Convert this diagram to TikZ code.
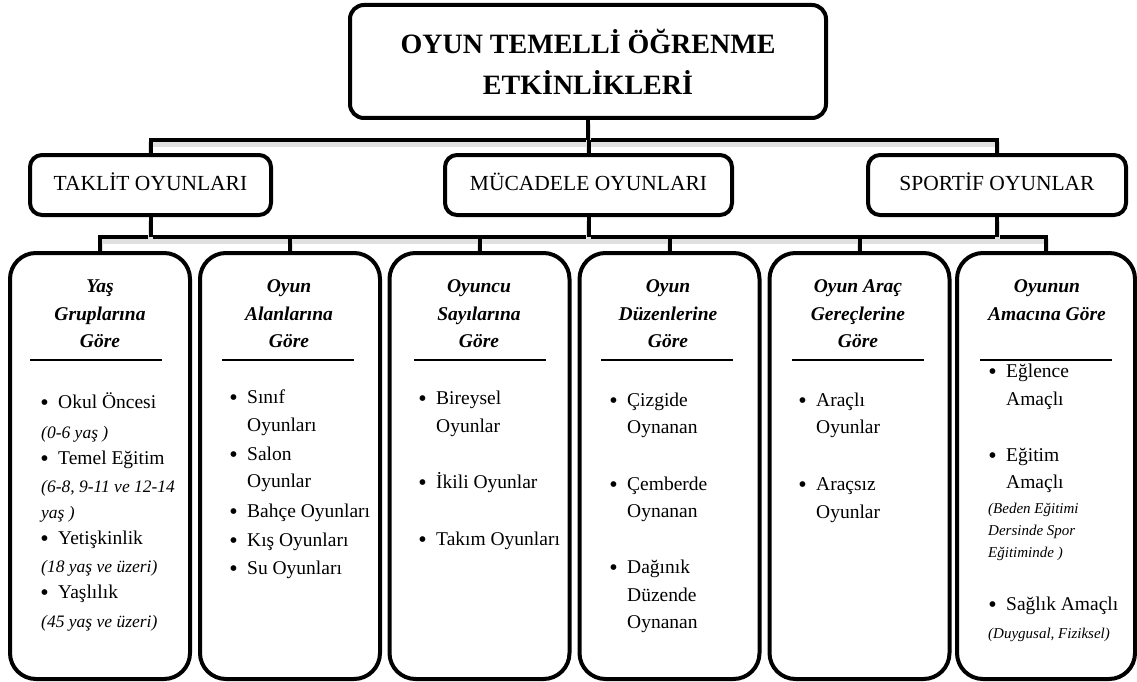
\documentclass[tikz,border=0pt]{standalone}
\usepackage{fontspec}
\setmainfont{Liberation Serif}
\pgfdeclarelayer{bg}
\pgfsetlayers{bg,main}
\tikzset{
  rbox/.style={draw, line width=4pt, rounded corners=#1, fill=white},
  lvltwo/.style={rbox=12pt, minimum height=60pt, text height=16pt, text depth=6pt, font=\fontsize{21.5}{26}\selectfont},
  lvlthree/.style={rbox=26pt, minimum width=180pt, minimum height=426pt},
  conn/.style={line width=4pt, preaction={draw=black!12, line width=5pt, transform canvas={yshift=-4pt}}},
  headtxt/.style={anchor=base, inner sep=0pt, font=\bfseries\itshape\fontsize{19.5}{24}\selectfont},
  itm/.style={anchor=base west, inner sep=0pt, font=\fontsize{19.5}{24}\selectfont},
  subitm/.style={anchor=base west, inner sep=0pt, xshift=-17pt, font=\itshape\fontsize{17.5}{22}\selectfont},
  noteitm/.style={anchor=base west, inner sep=0pt, xshift=-18pt, font=\itshape\fontsize{15}{18}\selectfont},
  rule/.style={line width=2pt}
}
\newcommand{\bul}{\llap{\raisebox{-2.2pt}{\fontsize{24}{24}\selectfont\textbullet}\hspace{9.5pt}}}

\begin{document}
\begin{tikzpicture}[x=1pt,y=-1pt]
    \useasboundingbox (0,0) rectangle (1137,682);
    % main box and the three groups
    \node[rbox=14pt, minimum width=476pt, minimum height=113pt, align=center,
          font=\bfseries\fontsize{28}{41}\selectfont] (top) at (588,61.5) {OYUN TEMELLİ ÖĞRENME\\ETKİNLİKLERİ};
    \node[lvltwo, minimum width=241pt] (taklit) at (150.5,185) {TAKLİT OYUNLARI};
    \node[lvltwo, minimum width=287pt] (mucadele) at (588.5,185) {MÜCADELE OYUNLARI};
    \node[lvltwo, minimum width=258pt] (sportif) at (997,185) {SPORTİF OYUNLAR};
    % six columns
    \foreach \n/\x in {yas/100,alan/290,sayi/479.5,duzen/669.5,arac/859.5}
        \node[lvlthree] (\n) at (\x,466) {};
    \node[lvlthree, minimum width=178pt] (amac) at (1046,466) {};
    \coordinate (bar1) at (0,140);
    \coordinate (bar2) at (0,237);
    \begin{pgfonlayer}{bg}
        \draw[conn] (taklit.north) |- (top.south |- bar1) -| (sportif.north);
        \draw[conn] (top.south) -- (top.south |- bar1);
        \draw[conn] (mucadele.north) -- (mucadele.north |- bar1);
        \draw[conn] (yas.north) |- (mucadele.south |- bar2) -| (amac.north);
        \foreach \n in {alan,sayi,duzen,arac}
            \draw[conn] (\n.north) -- (\n.north |- bar2);
        \foreach \n in {taklit,mucadele,sportif}
            \draw[conn] (\n.south) -- (\n.south |- bar2);
    \end{pgfonlayer}
    % headings
    \foreach \t [count=\i] in {Yaş,Gruplarına,Göre}
        \node[headtxt] (yas-h\i) at (100,265+27.5*\i) {\t};
    \foreach \t [count=\i] in {Oyun,Alanlarına,Göre}
        \node[headtxt] (alan-h\i) at (289,265+27.5*\i) {\t};
    \foreach \t [count=\i] in {Oyuncu,Sayılarına,Göre}
        \node[headtxt] (sayi-h\i) at (479,265+27.5*\i) {\t};
    \foreach \t [count=\i] in {Oyun,Düzenlerine,Göre}
        \node[headtxt] (duzen-h\i) at (668,265+27.5*\i) {\t};
    \foreach \t [count=\i] in {Oyun Araç,Gereçlerine,Göre}
        \node[headtxt] (arac-h\i) at (858,265+27.5*\i) {\t};
    \foreach \t [count=\i] in {Oyunun,Amacına Göre}
        \node[headtxt] (amac-h\i) at (1047,265+27.5*\i) {\t};
    \foreach \x in {96,288,480,667,858,1046}
        \draw[rule] (\x-66,360) -- (\x+66,360);
    % items
    \foreach \y/\s/\t [count=\i] in {408/itm/{\bul Okul Öncesi},438/subitm/{(0-6 yaş )},
            464/itm/{\bul Temel Eğitim},492/subitm/{(6-8, 9-11 ve 12-14},518/subitm/{yaş )},
            544/itm/{\bul Yetişkinlik},572/subitm/{(18 yaş ve üzeri)},
            598/itm/{\bul Yaşlılık},627/subitm/{(45 yaş ve üzeri)}}
        \node[\s] (yas-\i) at (58,\y) {\t};
    \foreach \y/\t [count=\i] in {403/{\bul Sınıf},431/Oyunları,460/{\bul Salon},487/Oyunlar,
            517/{\bul Bahçe Oyunları},546/{\bul Kış Oyunları},574/{\bul Su Oyunları}}
        \node[itm] (alan-\i) at (247,\y) {\t};
    \foreach \y/\t [count=\i] in {404/{\bul Bireysel},432/Oyunlar,488/{\bul İkili Oyunlar},545/{\bul Takım Oyunları}}
        \node[itm] (sayi-\i) at (436,\y) {\t};
    \foreach \y/\t [count=\i] in {406/{\bul Çizgide},433/Oynanan,490/{\bul Çemberde},517/Oynanan,
            573/{\bul Dağınık},601/Düzende,628/Oynanan}
        \node[itm] (duzen-\i) at (627,\y) {\t};
    \foreach \y/\t [count=\i] in {406/{\bul Araçlı},433/Oyunlar,490/{\bul Araçsız},518/Oyunlar}
        \node[itm] (arac-\i) at (816,\y) {\t};
    \foreach \y/\s/\t [count=\i] in {377/itm/{\bul Eğlence},405/itm/Amaçlı,461/itm/{\bul Eğitim},488/itm/Amaçlı,
            513/noteitm/{(Beden Eğitimi},535/noteitm/{Dersinde Spor},557/noteitm/{Eğitiminde )},
            610/itm/{\bul Sağlık Amaçlı},638/noteitm/{(Duygusal, Fiziksel)}}
        \node[\s] (amac-\i) at (1006,\y) {\t};
\end{tikzpicture}
\end{document}
